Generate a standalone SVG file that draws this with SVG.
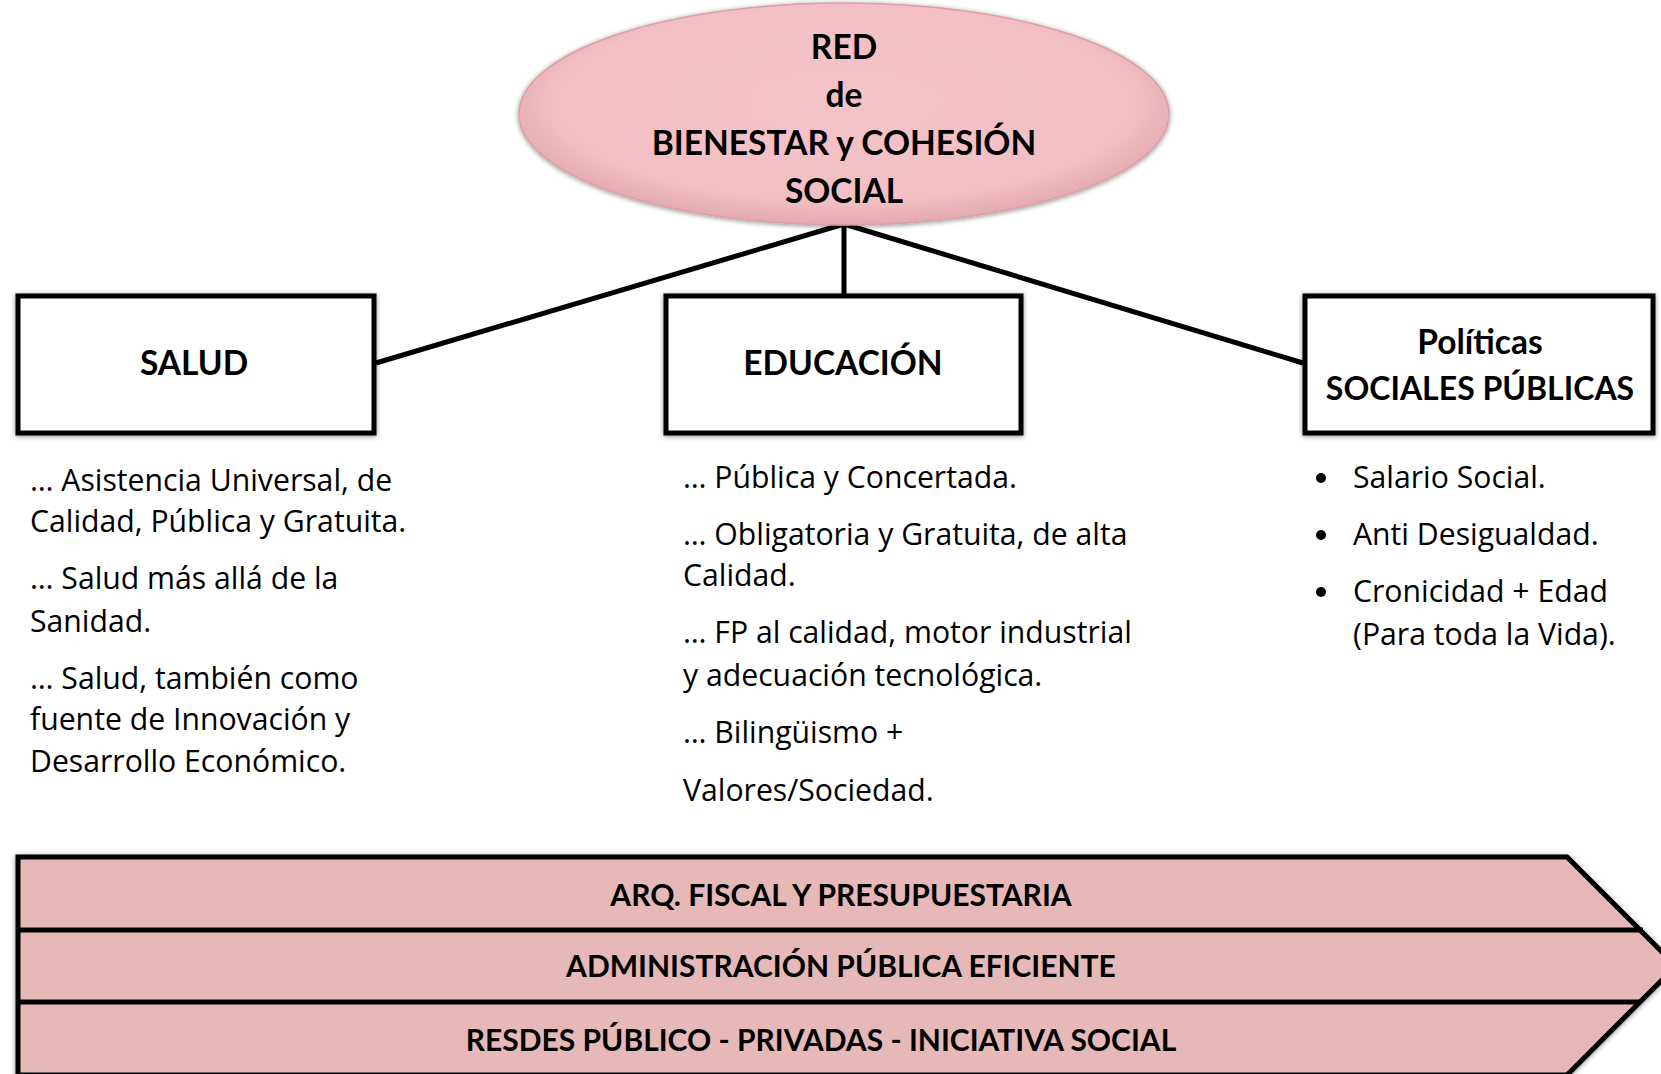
<svg xmlns="http://www.w3.org/2000/svg" width="1661" height="1074" viewBox="0 0 1661 1074">
<defs>
<filter id="sh" x="-10%" y="-10%" width="120%" height="120%">
<feDropShadow dx="0" dy="1" stdDeviation="2.5" flood-color="#000" flood-opacity="0.45"/>
</filter>
<radialGradient id="eg" cx="50%" cy="45%" r="55%">
<stop offset="0%" stop-color="#F4C3C7"/>
<stop offset="80%" stop-color="#F2C0C4"/>
<stop offset="100%" stop-color="#E2A9AE"/>
</radialGradient>
</defs>
<style>
.box{fill:#fff;stroke:#000;stroke-width:5}
.h{font-family:Lato,"Open Sans",sans-serif;font-weight:bold;font-size:33.5px;fill:#000;text-anchor:middle}
.b{font-family:"Open Sans",Lato,sans-serif;font-size:30.2px;fill:#000}
.bt{font-family:Lato,"Open Sans",sans-serif;font-weight:bold;font-size:30px;fill:#000;text-anchor:middle}
.con{stroke:#000;stroke-width:5;fill:none}
.band{fill:#E6B8B7;stroke:#000;stroke-width:5}
</style>
<rect width="1661" height="1074" fill="#fff"/>
<g id="connectors">
<line class="con" x1="844" y1="224" x2="376" y2="363"/>
<line class="con" x1="844" y1="224" x2="844" y2="294"/>
<line class="con" x1="844" y1="224" x2="1303" y2="363"/>
</g>
<g id="node-red">
<ellipse cx="844" cy="114" rx="325" ry="111" fill="url(#eg)" stroke="#D9A0A5" stroke-width="1.5" filter="url(#sh)"/>
<text class="h" x="844" y="59">RED</text>
<text class="h" x="844" y="107">de</text>
<text class="h" x="844" y="155">BIENESTAR y COHESIÓN</text>
<text class="h" x="844" y="203">SOCIAL</text>
</g>
<g id="node-salud">
<rect class="box" x="18" y="296" width="356" height="137" filter="url(#sh)"/>
<text class="h" x="194" y="375">SALUD</text>
</g>
<g id="node-educacion">
<rect class="box" x="666" y="296" width="355" height="137" filter="url(#sh)"/>
<text class="h" x="843" y="375">EDUCACIÓN</text>
</g>
<g id="node-politicas">
<rect class="box" x="1305" y="296" width="348" height="137" filter="url(#sh)"/>
<text class="h" x="1480" y="354">Políticas</text>
<text class="h" x="1480" y="400" style="font-size:32px">SOCIALES PÚBLICAS</text>
</g>
<g id="text-salud">
<text class="b" x="30" y="491">… Asistencia Universal, de</text>
<text class="b" x="30" y="532">Calidad, Pública y Gratuita.</text>
<text class="b" x="30" y="589">… Salud más allá de la</text>
<text class="b" x="30" y="632">Sanidad.</text>
<text class="b" x="30" y="689">… Salud, también como</text>
<text class="b" x="30" y="730">fuente de Innovación y</text>
<text class="b" x="30" y="772">Desarrollo Económico.</text>
</g>
<g id="text-educacion">
<text class="b" x="683" y="488">… Pública y Concertada.</text>
<text class="b" x="683" y="545">… Obligatoria y Gratuita, de alta</text>
<text class="b" x="683" y="586">Calidad.</text>
<text class="b" x="683" y="643">… FP al calidad, motor industrial</text>
<text class="b" x="683" y="686">y adecuación tecnológica.</text>
<text class="b" x="683" y="743">… Bilingüismo +</text>
<text class="b" x="683" y="801">Valores/Sociedad.</text>
</g>
<g id="text-politicas">
<circle cx="1321" cy="478" r="5"/>
<circle cx="1321" cy="535" r="5"/>
<circle cx="1321" cy="592" r="5"/>
<text class="b" x="1353" y="488">Salario Social.</text>
<text class="b" x="1353" y="545">Anti Desigualdad.</text>
<text class="b" x="1353" y="602">Cronicidad + Edad</text>
<text class="b" x="1353" y="645">(Para toda la Vida).</text>
</g>
<g id="node-bands">
<polygon class="band" points="18,857 1567,857 1676,966 1567,1075 18,1075" filter="url(#sh)"/>
<line class="con" x1="18" y1="930" x2="1643" y2="930"/>
<line class="con" x1="18" y1="1002" x2="1641" y2="1002"/>
<text class="bt" x="841" y="906">ARQ. FISCAL Y PRESUPUESTARIA</text>
<text class="bt" x="841" y="977">ADMINISTRACIÓN PÚBLICA EFICIENTE</text>
<text class="bt" x="821" y="1051">RESDES PÚBLICO - PRIVADAS - INICIATIVA SOCIAL</text>
</g>
</svg>
